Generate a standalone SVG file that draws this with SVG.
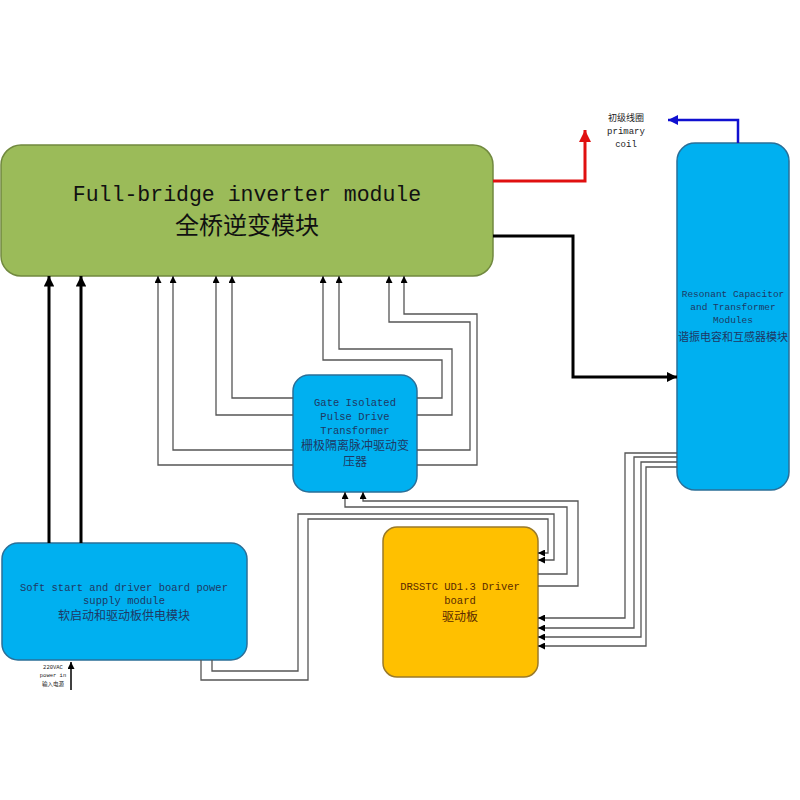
<svg xmlns="http://www.w3.org/2000/svg" width="800" height="800" viewBox="0 0 800 800">
<defs>
<marker id="a" viewBox="0 0 10 10" refX="10" refY="5" markerWidth="7" markerHeight="7" markerUnits="userSpaceOnUse" orient="auto"><path d="M0,0L10,5L0,10z" fill="#000"/></marker>
<marker id="ab" viewBox="0 0 10 10" refX="10" refY="5" markerWidth="3.5" markerHeight="3.5" orient="auto"><path d="M0,0L10,5L0,10z" fill="#000"/></marker>
<marker id="ar" viewBox="0 0 10 10" refX="10" refY="5" markerWidth="4" markerHeight="4" orient="auto"><path d="M0,0L10,5L0,10z" fill="#e01010"/></marker>
<marker id="au" viewBox="0 0 10 10" refX="10" refY="5" markerWidth="4" markerHeight="4" orient="auto"><path d="M0,0L10,5L0,10z" fill="#1010d0"/></marker>
</defs>
<style>
.blue{fill:#00b0f0;stroke:#2a6f98;stroke-width:1.5}
.thin{fill:none;stroke:#555;stroke-width:1.3;marker-end:url(#a)}
.bt{font-family:"Liberation Mono","Noto Sans CJK SC",monospace;fill:#1f3864;text-anchor:middle}
.cj{font-family:"Noto Sans CJK SC",sans-serif}
</style>
<rect width="800" height="800" fill="#fff"/>
<g id="fullbridge"><rect x="1" y="145" width="492" height="131" rx="20" fill="#9bbb59" stroke="#71893f" stroke-width="1.5"/>
<text x="247" y="201" font-family="Liberation Mono,monospace" font-size="21.5" text-anchor="middle" fill="#111">Full-bridge inverter module</text>
<text x="247" y="234" class="cj" font-size="24" text-anchor="middle" fill="#111">全桥逆变模块</text></g>
<g id="resonant"><rect x="677" y="143" width="112" height="347" rx="18" class="blue"/>
<text class="bt" font-size="9.5"><tspan x="733" y="297">Resonant Capacitor</tspan><tspan x="733" y="310">and Transformer</tspan><tspan x="733" y="323">Modules</tspan></text>
<text class="bt cj" x="733" y="341" font-size="11">谐振电容和互感器模块</text></g>
<g id="gate"><rect x="293" y="375" width="124" height="117" rx="16" class="blue"/>
<text class="bt" font-size="10.5"><tspan x="355" y="406">Gate Isolated</tspan><tspan x="355" y="420">Pulse Drive</tspan><tspan x="355" y="434">Transformer</tspan></text>
<text class="bt cj" font-size="12"><tspan x="355" y="450">栅极隔离脉冲驱动变</tspan><tspan x="355" y="466">压器</tspan></text></g>
<g id="softstart"><rect x="2" y="543" width="245" height="117" rx="16" class="blue"/>
<text class="bt" x="124" y="591" font-size="10.5">Soft start and driver board power</text>
<text class="bt" x="124" y="604" font-size="10.5">supply module</text>
<text class="bt cj" x="124" y="620" font-size="12">软启动和驱动板供电模块</text></g>
<g id="driver"><rect x="383" y="527" width="155" height="150" rx="14" fill="#ffc000" stroke="#9a7a2a" stroke-width="1.5"/>
<text font-family="Liberation Mono,monospace" font-size="10.5" fill="#5a2a00" text-anchor="middle"><tspan x="460" y="590">DRSSTC UD1.3 Driver</tspan><tspan x="460" y="604">board</tspan></text>
<text class="cj" font-size="12" fill="#5a2a00" text-anchor="middle" x="460" y="621">驱动板</text></g>
<g id="labels" font-family="'Liberation Mono','Noto Sans CJK SC',monospace" text-anchor="middle" fill="#222">
<text x="626" y="121" font-size="9">初级线圈</text><text x="626" y="134" font-size="9">primary</text><text x="626" y="147" font-size="9">coil</text>
<text x="53" y="669" font-size="5.5">220VAC</text><text x="53" y="677" font-size="5.5">power in</text><text x="53" y="686" font-size="5.5">输入电源</text></g>
<g id="connectors">
<path d="M49,543V276" fill="none" stroke="#000" stroke-width="3" marker-end="url(#ab)"/>
<path d="M81,543V276" fill="none" stroke="#000" stroke-width="3" marker-end="url(#ab)"/>
<path d="M493,236H573V377H677" fill="none" stroke="#000" stroke-width="3" marker-end="url(#ab)"/>
<path d="M493,181H585V130" fill="none" stroke="#e01010" stroke-width="3" marker-end="url(#ar)"/>
<path d="M738,143V120H668" fill="none" stroke="#1010d0" stroke-width="2.5" marker-end="url(#au)"/>
<path d="M71,690V662" fill="none" stroke="#000" stroke-width="1.5" marker-end="url(#a)"/>
<path class="thin" d="M293,465H158V276"/>
<path class="thin" d="M293,450H173V276"/>
<path class="thin" d="M293,415H216V276"/>
<path class="thin" d="M293,398H232V276"/>
<path class="thin" d="M417,398H442V360H323V276"/>
<path class="thin" d="M417,415H452V349H339V276"/>
<path class="thin" d="M417,450H470V322H389V276"/>
<path class="thin" d="M417,465H477V314H404V276"/>
<path class="thin" d="M538,574H567V507H345V492"/>
<path class="thin" d="M538,586H578V501H363V492"/>
<path class="thin" d="M212,660V671H298V514H554V560H538"/>
<path class="thin" d="M201,660V680H308V519H548V553H538"/>
<path class="thin" d="M677,453H625V618H538"/>
<path class="thin" d="M677,457H634V628H538"/>
<path class="thin" d="M677,462H641V637H538"/>
<path class="thin" d="M677,467H646V646H538"/>
</g>
</svg>
